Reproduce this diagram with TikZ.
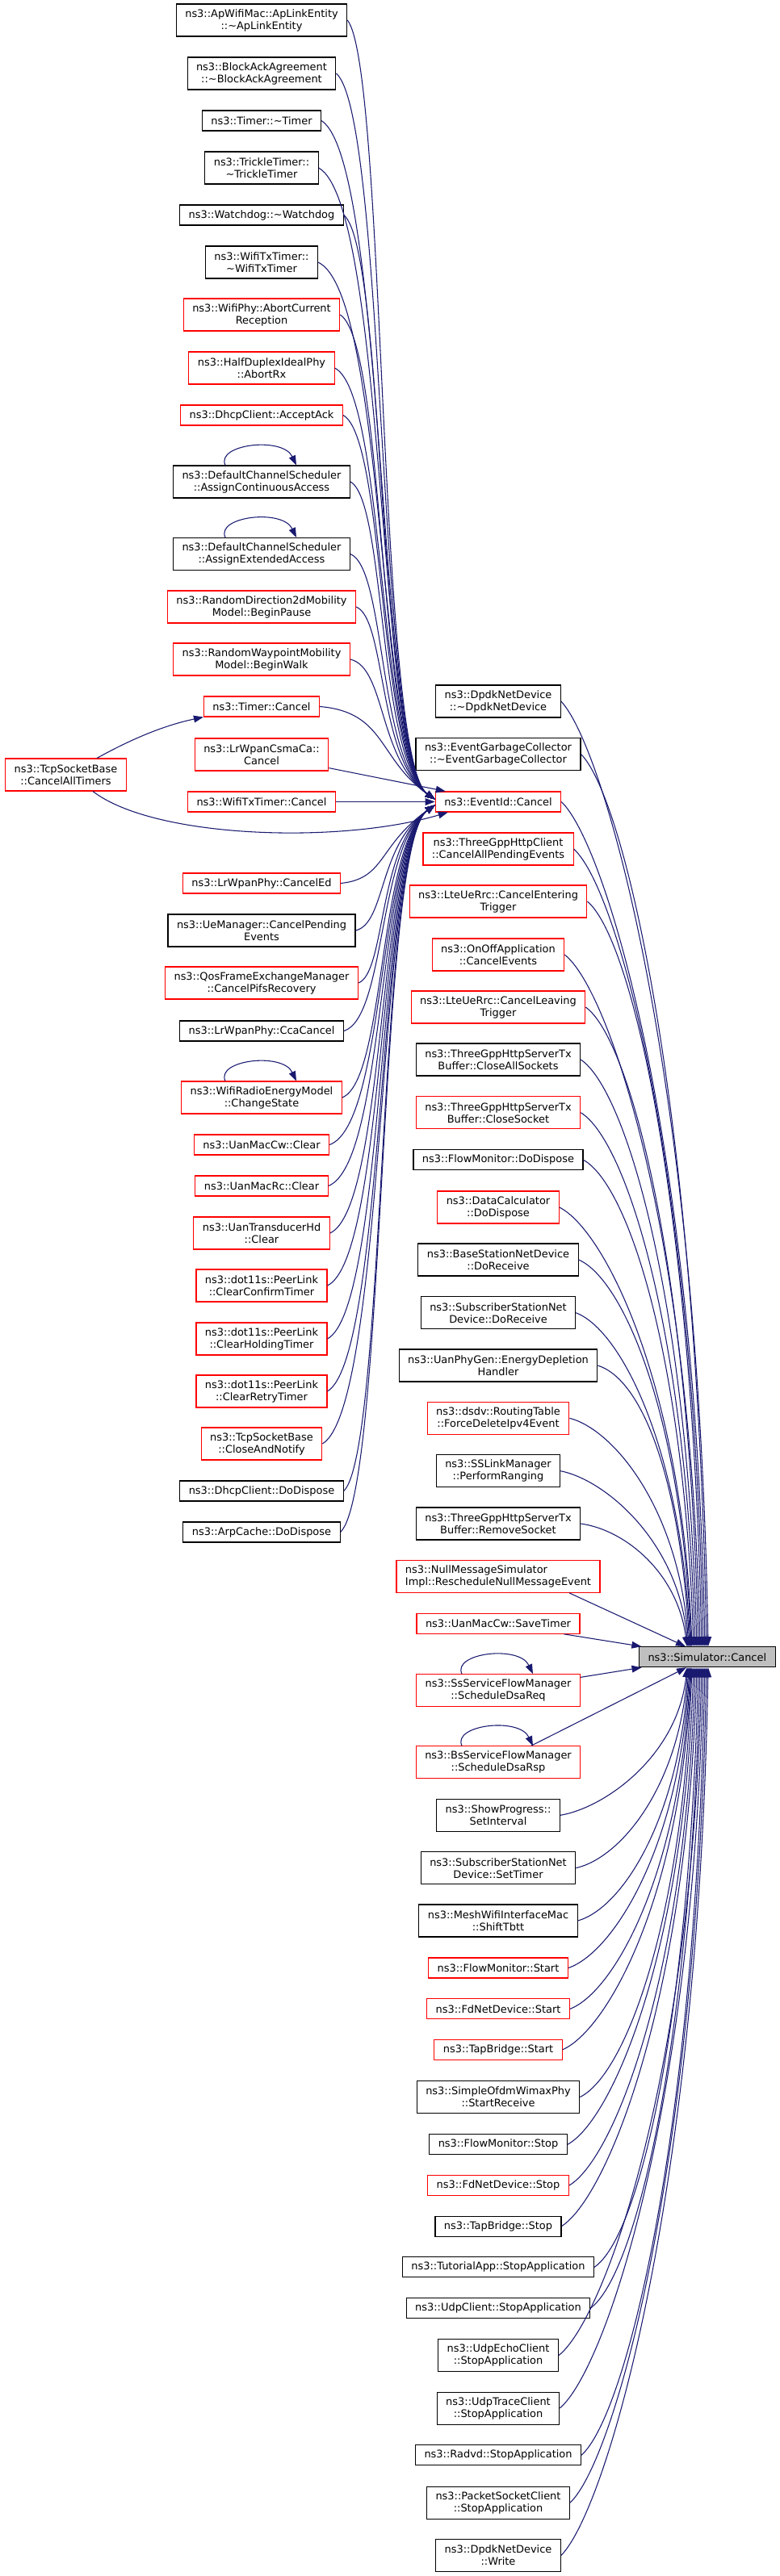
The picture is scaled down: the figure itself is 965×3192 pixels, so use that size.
\documentclass[tikz,border=0pt]{standalone}
\usepackage{fontspec}
\setmainfont{DejaVu Sans}
\usetikzlibrary{arrows.meta,calc}
\definecolor{midnight}{HTML}{191970}
\definecolor{rootfill}{HTML}{BFBFBF}
\newcommand\eidlink[3]{\draw[callarrow] let \p1=(#1.east), \p2=($(eid.west)+(0,#2)$), \p3=(478,#3), \p4=(468,0) in (\p1) .. controls (\x3,{\y1+0.06*((\y2)-(\y1))}) and (\x4,{\y2+\y3}) .. (\p2);}
\newcommand\simlink[3]{\draw[callarrow] let \p1=(#1.east), \p2=($(sim.#3 west)+(#2,0)$), \p3=(55,0), \p4=(12,0) in (\p1) .. controls ({\x1+\x3},{\y1+0.05*((\y2)-(\y1))}) and ({\x2-\x4},{\y2+0.6*((\y1)-(\y2))}) .. (\p2);}
\newcommand\selfloop[1]{\draw[callarrow] ($(#1.north)+(-45,0)$) .. controls +(-12,-26) and +(-17,-36) .. ($(#1.north)+(43,0)$);}
\begin{document}
\begin{tikzpicture}[x=0.75pt,y=-0.75pt,
  box/.style={draw, rectangle, fill=white, line width=0.8pt, inner xsep=8.25pt, inner ysep=1pt, align=center, font=\fontsize{9.7}{11.25}\selectfont},
  one/.style={box, minimum height=18.75pt},
  two/.style={box, minimum height=30pt},
  blk/.style={draw=black},
  trunc/.style={draw=red},
  root/.style={fill=rootfill, draw=black},
  callarrow/.style={draw=midnight, line width=0.8pt, -{Triangle[length=9pt,width=6.5pt]}}
]
\useasboundingbox (0,0) rectangle (965,3192);
% ---------------- left column
\node[two,blk] (L1) at (324,25) {ns3::ApWifiMac::ApLinkEntity\\::\textasciitilde ApLinkEntity};
\node[two,blk] (L2) at (324,91) {ns3::BlockAckAgreement\\::\textasciitilde BlockAckAgreement};
\node[one,blk] (L3) at (324,149.5) {ns3::Timer::\textasciitilde Timer};
\node[two,blk] (L4) at (324,208) {ns3::TrickleTimer::\\\textasciitilde TrickleTimer};
\node[one,blk] (L5) at (324,266.5) {ns3::Watchdog::\textasciitilde Watchdog};
\node[two,blk] (L6) at (324,325) {ns3::WifiTxTimer::\\\textasciitilde WifiTxTimer};
\node[two,trunc] (L7) at (324,390) {ns3::WifiPhy::AbortCurrent\\Reception};
\node[two,trunc] (L8) at (324,456) {ns3::HalfDuplexIdealPhy\\::AbortRx};
\node[one,trunc] (L9) at (324,514.5) {ns3::DhcpClient::AcceptAck};
\node[two,blk] (L10) at (324,597) {ns3::DefaultChannelScheduler\\::AssignContinuousAccess};
\node[two,blk] (L11) at (324,686.5) {ns3::DefaultChannelScheduler\\::AssignExtendedAccess};
\node[two,trunc] (L12) at (324,752) {ns3::RandomDirection2dMobility\\Model::BeginPause};
\node[two,trunc] (L13) at (324,817) {ns3::RandomWaypointMobility\\Model::BeginWalk};
\node[one,trunc] (L14) at (324,875.5) {ns3::Timer::Cancel};
\node[two,trunc] (L15) at (324,935) {ns3::LrWpanCsmaCa::\\Cancel};
\node[one,trunc] (L16) at (324,993.5) {ns3::WifiTxTimer::Cancel};
\node[two,trunc] (L17) at (81.5,960) {ns3::TcpSocketBase\\::CancelAllTimers};
\node[one,trunc] (L18) at (324,1094.5) {ns3::LrWpanPhy::CancelEd};
\node[two,blk] (L19) at (324,1153) {ns3::UeManager::CancelPending\\Events};
\node[two,trunc] (L20) at (324,1218) {ns3::QosFrameExchangeManager\\::CancelPifsRecovery};
\node[one,blk] (L21) at (324,1277.5) {ns3::LrWpanPhy::CcaCancel};
\node[two,trunc] (L22) at (324,1360) {ns3::WifiRadioEnergyModel\\::ChangeState};
\node[one,trunc] (L23) at (324,1418.5) {ns3::UanMacCw::Clear};
\node[one,trunc] (L24) at (324,1469.5) {ns3::UanMacRc::Clear};
\node[two,trunc] (L25) at (324,1528) {ns3::UanTransducerHd\\::Clear};
\node[two,trunc] (L26) at (324,1593) {ns3::dot11s::PeerLink\\::ClearConfirmTimer};
\node[two,trunc] (L27) at (324,1659) {ns3::dot11s::PeerLink\\::ClearHoldingTimer};
\node[two,trunc] (L28) at (324,1724) {ns3::dot11s::PeerLink\\::ClearRetryTimer};
\node[two,trunc] (L29) at (324,1789) {ns3::TcpSocketBase\\::CloseAndNotify};
\node[one,blk] (L30) at (324,1847.5) {ns3::DhcpClient::DoDispose};
\node[one,blk] (L31) at (324,1898.5) {ns3::ArpCache::DoDispose};
% ---------------- middle column
\node[two,blk] (M1) at (617,869) {ns3::DpdkNetDevice\\::\textasciitilde DpdkNetDevice};
\node[two,blk] (M2) at (617,934.5) {ns3::EventGarbageCollector\\::\textasciitilde EventGarbageCollector};
\node[one,trunc] (eid) at (617,993.5) {ns3::EventId::Cancel};
\node[two,trunc] (M3) at (617,1052) {ns3::ThreeGppHttpClient\\::CancelAllPendingEvents};
\node[two,trunc] (M4) at (617,1117) {ns3::LteUeRrc::CancelEntering\\Trigger};
\node[two,trunc] (M5) at (617,1183) {ns3::OnOffApplication\\::CancelEvents};
\node[two,trunc] (M6) at (617,1248) {ns3::LteUeRrc::CancelLeaving\\Trigger};
\node[two,blk] (M7) at (617,1313) {ns3::ThreeGppHttpServerTx\\Buffer::CloseAllSockets};
\node[two,trunc] (M8) at (617,1378.7) {ns3::ThreeGppHttpServerTx\\Buffer::CloseSocket};
\node[one,blk] (M9) at (617,1437.3) {ns3::FlowMonitor::DoDispose};
\node[two,trunc] (M10) at (617,1496) {ns3::DataCalculator\\::DoDispose};
\node[two,blk] (M11) at (617,1561) {ns3::BaseStationNetDevice\\::DoReceive};
\node[two,blk] (M12) at (617,1626.7) {ns3::SubscriberStationNet\\Device::DoReceive};
\node[two,blk] (M13) at (617,1692) {ns3::UanPhyGen::EnergyDepletion\\Handler};
\node[two,trunc] (M14) at (617,1757.3) {ns3::dsdv::RoutingTable\\::ForceDeleteIpv4Event};
\node[two,blk] (M15) at (617,1822.7) {ns3::SSLinkManager\\::PerformRanging};
\node[two,blk] (M16) at (617,1888) {ns3::ThreeGppHttpServerTx\\Buffer::RemoveSocket};
\node[two,trunc,align=left] (M17) at (617,1953.3) {ns3::NullMessageSimulator\\Impl::RescheduleNullMessageEvent};
\node[one,trunc] (M18) at (617,2011.8) {ns3::UanMacCw::SaveTimer};
\node[one,root] (sim) at (875.8,2053.2) {ns3::Simulator::Cancel};
\node[two,trunc] (M19) at (617,2094.7) {ns3::SsServiceFlowManager\\::ScheduleDsaReq};
\node[two,trunc] (M20) at (617,2183.8) {ns3::BsServiceFlowManager\\::ScheduleDsaRsp};
\node[two,blk] (M21) at (617,2249.3) {ns3::ShowProgress::\\SetInterval};
\node[two,blk] (M22) at (617,2314.7) {ns3::SubscriberStationNet\\Device::SetTimer};
\node[two,blk] (M23) at (617,2380) {ns3::MeshWifiInterfaceMac\\::ShiftTbtt};
\node[one,trunc] (M24) at (617,2438.5) {ns3::FlowMonitor::Start};
\node[one,trunc] (M25) at (617,2489.3) {ns3::FdNetDevice::Start};
\node[one,trunc] (M26) at (617,2539.8) {ns3::TapBridge::Start};
\node[two,blk] (M27) at (617,2598.5) {ns3::SimpleOfdmWimaxPhy\\::StartReceive};
\node[one,blk] (M28) at (617,2657.3) {ns3::FlowMonitor::Stop};
\node[one,trunc] (M29) at (617,2708) {ns3::FdNetDevice::Stop};
\node[one,blk] (M30) at (617,2758.5) {ns3::TapBridge::Stop};
\node[one,blk] (M31) at (617,2809.3) {ns3::TutorialApp::StopApplication};
\node[one,blk] (M32) at (617,2860) {ns3::UdpClient::StopApplication};
\node[two,blk] (M33) at (617,2918.7) {ns3::UdpEchoClient\\::StopApplication};
\node[two,blk] (M34) at (617,2984) {ns3::UdpTraceClient\\::StopApplication};
\node[one,blk] (M35) at (617,3042.3) {ns3::Radvd::StopApplication};
\node[two,blk] (M36) at (617,3101.2) {ns3::PacketSocketClient\\::StopApplication};
\node[two,blk] (M37) at (617,3166.5) {ns3::DpdkNetDevice\\::Write};
% ---------------- edges into EventId::Cancel
\foreach \i in {1,...,14} {\eidlink{L\i}{-3}{-50}}
\foreach \i in {18,...,31} {\eidlink{L\i}{4}{50}}
\draw[callarrow] (L15) -- (eid);
\draw[callarrow] (L16) -- (eid);
\draw[callarrow] ($(L17.north)+(38.5,0)$) .. controls +(45,-25) and +(-47,10) .. (L14.south west);
\draw[callarrow] ($(L17.south)+(33.5,0)$) .. controls +(75,58) and +(-135,40) .. ($(eid.south west)+(16,0)$);
% ---------------- edges into Simulator::Cancel
\foreach \nd/\dd in {M1/86,M2/84,eid/82,M3/80,M4/78,M5/76,M6/74,M7/72,M8/70,M9/68,M10/66,M11/65,M12/64,M13/63,M14/62,M15/61,M16/60} {\simlink{\nd}{\dd}{north}}
\foreach \nd/\dd in {M21/60,M22/61,M23/62,M24/63,M25/64,M26/65,M27/66,M28/68,M29/70,M30/72,M31/74,M32/76,M33/78,M34/80,M35/82,M36/84,M37/86} {\simlink{\nd}{\dd}{south}}
\draw[callarrow] ($(M17.south)+(88,0)$) -- ($(sim.north west)+(58,0)$);
\draw[callarrow] (M18) -- (sim);
\draw[callarrow] (M19) -- (sim);
\draw[callarrow] (M20) -- (sim);
% ---------------- self calls
\selfloop{L10}
\selfloop{L11}
\selfloop{L22}
\selfloop{M19}
\selfloop{M20}
\end{tikzpicture}
\end{document}
